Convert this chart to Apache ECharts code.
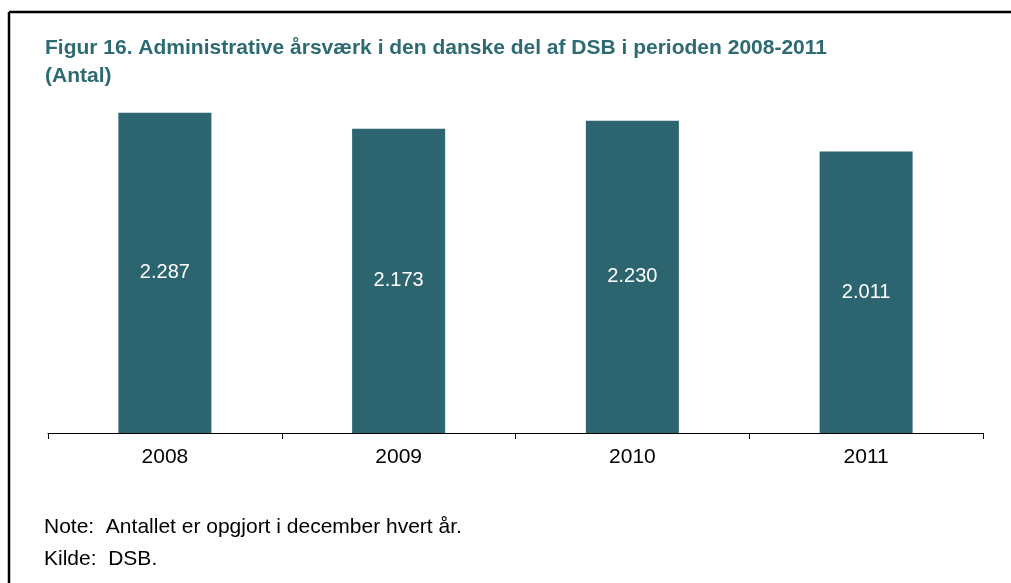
<!DOCTYPE html>
<html>
<head>
<meta charset="utf-8">
<script src="https://cdn.jsdelivr.net/npm/echarts@6/dist/echarts.min.js"></script>
<style>
  html, body { margin: 0; padding: 0; background: #fff; }
  #chart { width: 1011px; height: 583px; }
</style>
</head>
<body>
<div id="chart"></div>
<script>
const years = ['2008', '2009', '2010', '2011']
const fte = [2287, 2173, 2230, 2011]
const noteLines = ['Note:  Antallet er opgjort i december hvert år.', 'Kilde:  DSB.']

const teal = '#2c6470'
const font = '"Liberation Sans", Arial, sans-serif'

const chart = echarts.init(document.getElementById('chart'))
chart.setOption({
  animation: false,
  backgroundColor: '#fff',
  title: {
    text: 'Figur 16. Administrative årsværk i den danske del af DSB i perioden 2008-2011\n(Antal)',
    left: 40,
    top: 29,
    textStyle: {
      color: '#2d6a72',
      fontFamily: font,
      fontSize: 21,
      fontWeight: 'bold',
      lineHeight: 28
    }
  },
  grid: { left: 48, right: 28, top: 83, bottom: 150 },
  xAxis: {
    type: 'category',
    data: years,
    axisLine: { lineStyle: { color: '#000', width: 1 } },
    axisTick: { show: true, length: 6, lineStyle: { color: '#000' } },
    axisLabel: { color: '#000', fontFamily: font, fontSize: 21, margin: 14 }
  },
  yAxis: {
    type: 'value',
    min: 0,
    max: 2500,
    show: false,
    splitLine: { show: false }
  },
  series: [{
    type: 'bar',
    data: fte,
    barWidth: 93,
    itemStyle: { color: teal },
    label: {
      show: true,
      position: 'inside',
      color: '#fff',
      fontFamily: font,
      fontSize: 20,
      formatter: p => String(p.value).replace(/\B(?=(\d{3})+(?!\d))/g, '.')
    }
  }],
  graphic: [
    { type: 'line', shape: { x1: 9, y1: 12, x2: 1011, y2: 12 }, style: { stroke: '#000', lineWidth: 2.5 } },
    { type: 'line', shape: { x1: 9, y1: 12, x2: 9, y2: 583 }, style: { stroke: '#000', lineWidth: 2.5 } },
    ...noteLines.map((t, i) => ({
      type: 'text',
      left: 44,
      top: 517 + i * 32,
      style: { text: t, fill: '#000', font: '21px ' + font }
    }))
  ]
})
</script>
</body>
</html>
